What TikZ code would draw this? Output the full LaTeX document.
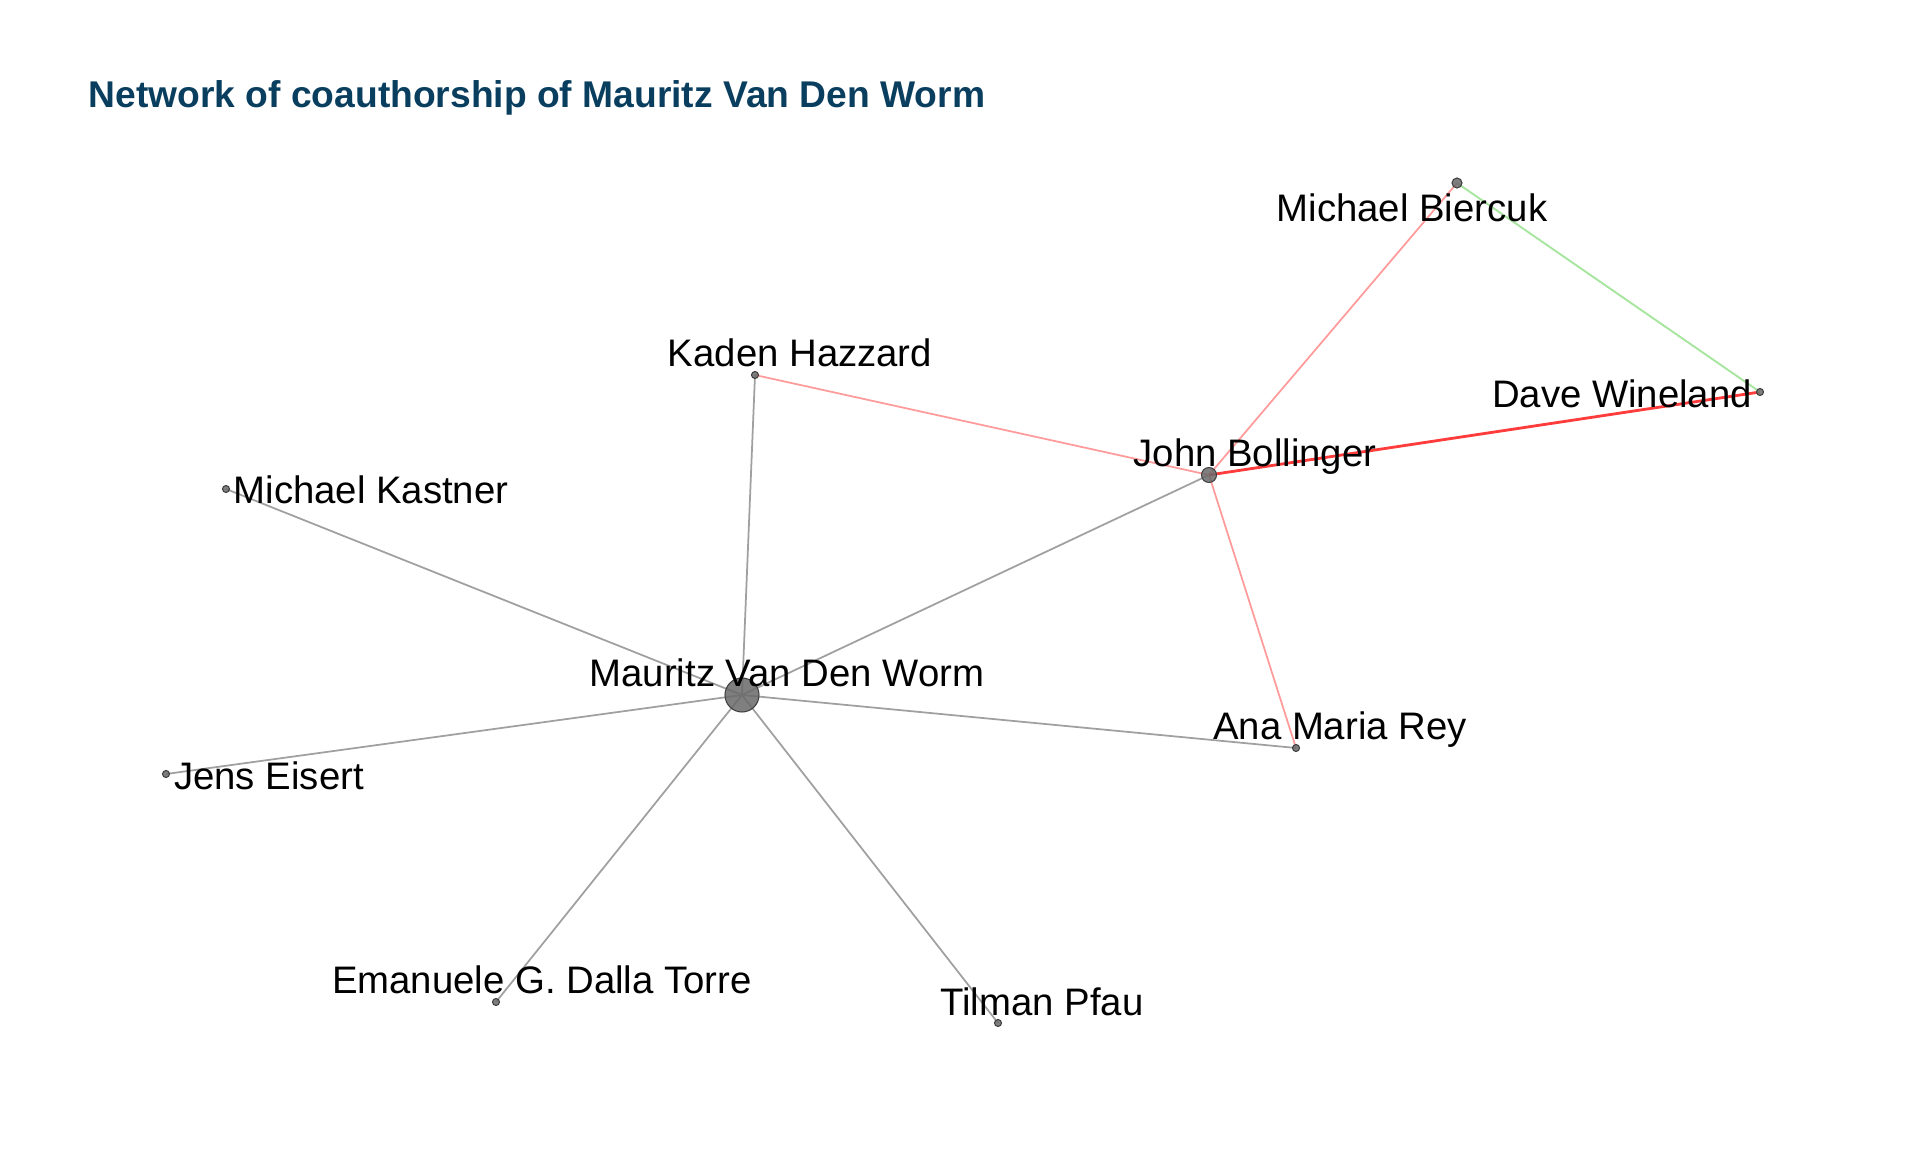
\documentclass[tikz,border=0pt]{standalone}
\usepackage{fontspec}
\setmainfont{Liberation Sans}
\usepackage{xcolor}
\usepackage{tikz}
\usetikzlibrary{
  backgrounds
}
\definecolor{titleblue}{RGB}{10,62,95}
\definecolor{linkgray}{RGB}{160,160,160}
\definecolor{linkpink}{RGB}{255,155,155}
\definecolor{linkred}{RGB}{255,60,60}
\definecolor{linkgreen}{RGB}{168,230,160}
\definecolor{vertexgray}{RGB}{105,105,105}
\tikzset{
  vertex/.style={
    circle,
    draw=black!75,
    fill=vertexgray,
    fill opacity=0.85,
    line width=0.3pt,
    inner sep=0pt
  },
  bigvertex/.style={vertex,minimum size=0.34cm},
  midvertex/.style={vertex,minimum size=0.15cm},
  smallvertex/.style={vertex,minimum size=0.10cm},
  tinyvertex/.style={vertex,minimum size=0.07cm},
  namelabel/.style={anchor=base,inner sep=0pt,font=\fontsize{10.9}{13}\selectfont},
  graylink/.style={draw=linkgray,line width=0.5pt},
  pinklink/.style={draw=linkpink,line width=0.5pt},
  redlink/.style={draw=linkred,line width=0.8pt},
  greenlink/.style={draw=linkgreen,line width=0.55pt}
}

\begin{document}
\begin{tikzpicture}[x=0.01cm,y=-0.01cm]
  \useasboundingbox (0,0) rectangle (1920,1152);
  \node[anchor=base west,inner sep=0pt,text=titleblue,
    font=\fontsize{10.58}{13}\selectfont\bfseries] (title) at (88,108)
    {Network of coauthorship of Mauritz Van Den Worm};

  % authors
  \node[bigvertex] (worm) at (742,695) {};
  \node[midvertex] (bollinger) at (1209,475) {};
  \node[smallvertex] (biercuk) at (1457,183) {};
  \node[tinyvertex] (wineland) at (1760,392) {};
  \node[tinyvertex] (hazzard) at (755,375) {};
  \node[tinyvertex] (kastner) at (226,489) {};
  \node[tinyvertex] (eisert) at (166,774) {};
  \node[tinyvertex] (dallatorre) at (496,1002) {};
  \node[tinyvertex] (pfau) at (998,1023) {};
  \node[tinyvertex] (rey) at (1296,748) {};

  % coauthor links
  \begin{scope}[on background layer]
    \draw[graylink] (worm.center)--(hazzard.center);
    \draw[graylink] (worm.center)--(kastner.center);
    \draw[graylink] (worm.center)--(eisert.center);
    \draw[graylink] (worm.center)--(dallatorre.center);
    \draw[graylink] (worm.center)--(pfau.center);
    \draw[graylink] (worm.center)--(rey.center);
    \draw[graylink] (worm.center)--(bollinger.center);
    \draw[pinklink] (bollinger.center)--(hazzard.center);
    \draw[pinklink] (bollinger.center)--(biercuk.center);
    \draw[pinklink] (bollinger.center)--(rey.center);
    \draw[redlink] (bollinger.center)--(wineland.center);
    \draw[greenlink] (biercuk.center)--(wineland.center);
  \end{scope}

  % names
  \node[namelabel] (worm-name) at (787,687) {Mauritz Van Den Worm};
  \node[namelabel] (bollinger-name) at (1255,467) {John Bollinger};
  \node[namelabel] (biercuk-name) at (1412,222) {Michael Biercuk};
  \node[namelabel] (wineland-name) at (1622,408) {Dave Wineland};
  \node[namelabel] (hazzard-name) at (800,367) {Kaden Hazzard};
  \node[namelabel] (kastner-name) at (371,504) {Michael Kastner};
  \node[namelabel] (eisert-name) at (269,790) {Jens Eisert};
  \node[namelabel] (dallatorre-name) at (542,994) {Emanuele G. Dalla Torre};
  \node[namelabel] (pfau-name) at (1042,1015) {Tilman Pfau};
  \node[namelabel] (rey-name) at (1340,740) {Ana Maria Rey};
\end{tikzpicture}
\end{document}
